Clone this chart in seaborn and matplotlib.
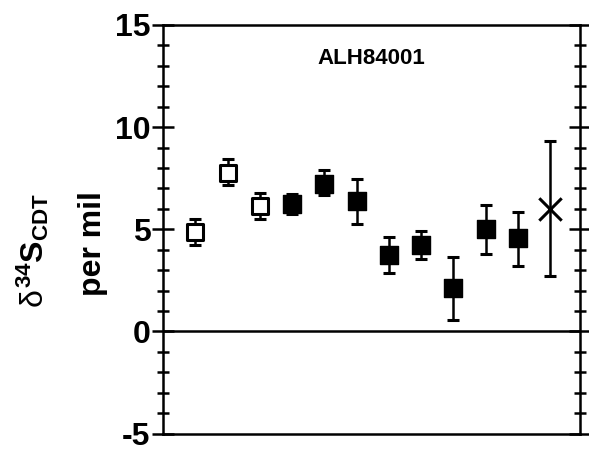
import numpy as np
import pandas as pd
import matplotlib
matplotlib.use("Agg")
import matplotlib.pyplot as plt
import seaborn as sns
from matplotlib.ticker import MultipleLocator

# values (delta34S per mil, error bar ends)
sample = np.arange(1, 13)
d34s = [4.87, 7.77, 6.14, 6.22, 7.23, 6.38, 3.73, 4.23, 2.12, 5.00, 4.55, 5.98]
err_hi = [5.52, 8.46, 6.79, 6.74, 7.89, 7.47, 4.64, 4.89, 3.65, 6.19, 5.86, 9.34]
err_lo = [4.22, 7.15, 5.52, 5.73, 6.69, 5.24, 2.85, 3.54, 0.58, 3.81, 3.21, 2.69]
kind = ["open"] * 3 + ["filled"] * 8 + ["bulk"]

df = pd.DataFrame({"sample": sample, "d34S": d34s, "hi": err_hi, "lo": err_lo, "kind": kind})

sns.set_style("ticks")
plt.rcParams["font.family"] = ["Liberation Sans", "DejaVu Sans"]
plt.rcParams["mathtext.fontset"] = "custom"
plt.rcParams["mathtext.rm"] = "Liberation Sans"
plt.rcParams["mathtext.it"] = "Liberation Sans"
plt.rcParams["mathtext.bf"] = "Liberation Sans:bold"
plt.rcParams["axes.unicode_minus"] = False
plt.rcParams["text.color"] = "black"
plt.rcParams["ytick.color"] = "black"
plt.rcParams["ytick.labelcolor"] = "black"
plt.rcParams["axes.edgecolor"] = "black"

fig = plt.figure(figsize=(5.89, 4.49), dpi=100)
ax = fig.add_axes([0.2767, 0.0345, 0.7080, 0.9099])

# error bars
yerr = np.array([df["d34S"] - df["lo"], df["hi"] - df["d34S"]])
ax.errorbar(df["sample"], df["d34S"], yerr=yerr, fmt="none", ecolor="black",
            elinewidth=1.8, capsize=4, capthick=2.2, zorder=2)

# markers
sns.scatterplot(data=df[df["kind"] == "open"], x="sample", y="d34S", marker="s",
                s=140, facecolor="white", edgecolor="black", linewidth=2.2, ax=ax, zorder=3)
sns.scatterplot(data=df[df["kind"] == "filled"], x="sample", y="d34S", marker="s",
                s=150, color="black", edgecolor="black", linewidth=1, ax=ax, zorder=3)
sns.scatterplot(data=df[df["kind"] == "bulk"], x="sample", y="d34S", marker="x",
                s=260, color="black", linewidth=2.2, ax=ax, zorder=3)

ax.axhline(0, color="black", lw=1.8, zorder=1)

ax.set_xlim(0, 12.92)
ax.set_ylim(-5, 15)
ax.yaxis.set_major_locator(MultipleLocator(5))
ax.yaxis.set_minor_locator(MultipleLocator(1))
ax.set_xticks([])
ax.tick_params(axis="y", which="major", direction="inout", length=16, width=1.8,
               left=True, right=True, labelsize=23, pad=1)
ax.tick_params(axis="y", which="minor", direction="inout", length=8, width=1.8,
               left=True, right=True)
for lab in ax.get_yticklabels():
    lab.set_fontweight("bold")
for sp in ax.spines.values():
    sp.set_linewidth(1.8)
ax.set_xlabel("")
ax.set_ylabel("")

ax.text(0.50, 0.917, "ALH84001", transform=ax.transAxes, ha="center", va="center",
        fontsize=16, fontweight="bold")

fig.text(0.055, 0.443, r"$\delta^{\mathbf{34}}\mathbf{S}_{\mathbf{CDT}}$", rotation=90,
         ha="center", va="center", fontsize=23)
fig.text(0.158, 0.457, "per mil", rotation=90, ha="center", va="center",
         fontsize=23, fontweight="bold")

fig.savefig("out.png", dpi=100)
